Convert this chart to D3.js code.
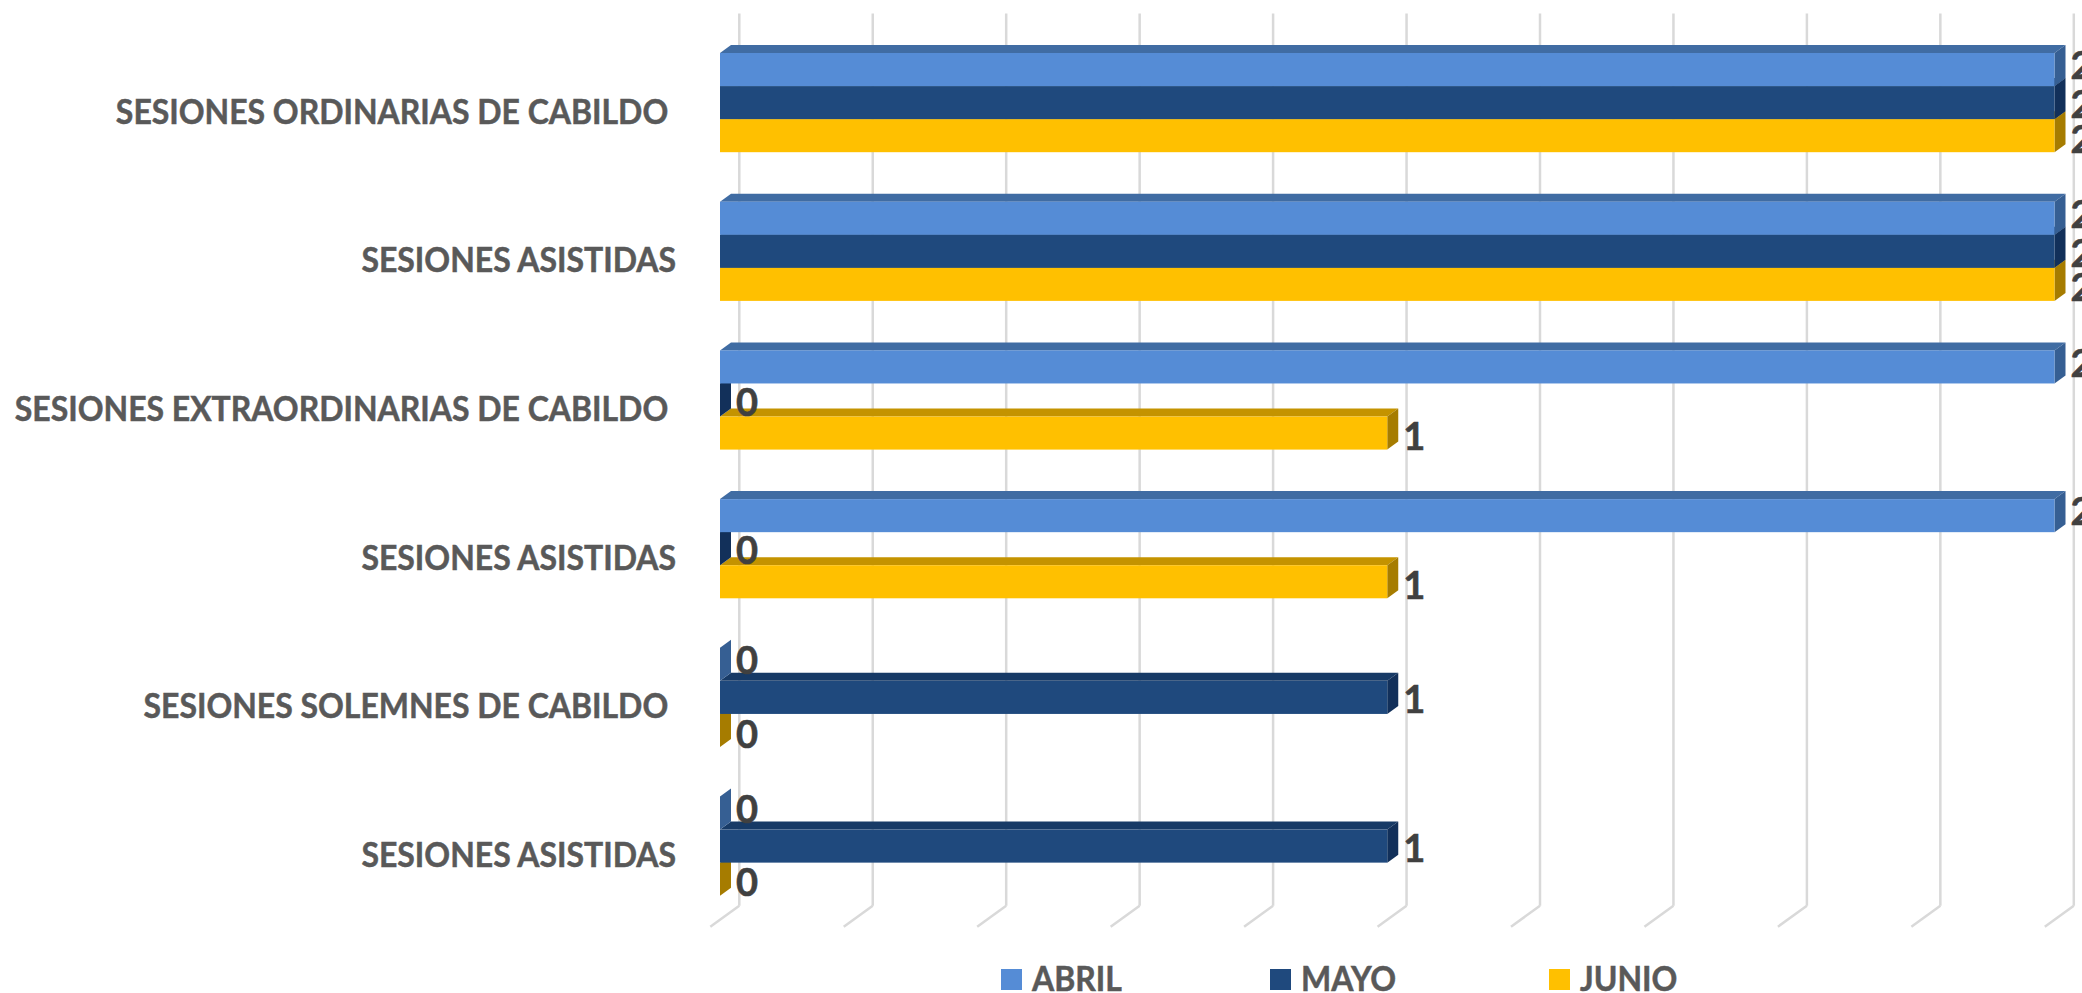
<!DOCTYPE html>
<html>
<head>
<meta charset="utf-8">
<script src="https://cdn.jsdelivr.net/npm/d3@7"></script>
<style>
  html, body { margin: 0; padding: 0; background: #fff; }
  svg { display: block; }
  text { font-family: Lato, "Open Sans", sans-serif; font-weight: 700; white-space: pre; }
</style>
</head>
<body>
<script>
// trailing space on the cabildo rows is in the original labels
var categories = ["SESIONES ORDINARIAS DE CABILDO ", "SESIONES ASISTIDAS", "SESIONES EXTRAORDINARIAS DE CABILDO ", "SESIONES ASISTIDAS", "SESIONES SOLEMNES DE CABILDO ", "SESIONES ASISTIDAS"];
var seriesNames = ["ABRIL", "MAYO", "JUNIO"];
var abril = [2, 2, 2, 2, 0, 0];
var mayo = [2, 2, 0, 0, 1, 1];
var junio = [2, 2, 1, 1, 0, 0];
var seriesValues = [abril, mayo, junio];

var frontColors = ["#558cd6", "#1f497d", "#ffc000"];
var topColors = ["#406ca3", "#173a66", "#c49300"];
var sideColors = ["#365f93", "#12305a", "#a67c00"];
var labelNudge = [-6, 0, 1.5];
var legendX = [1001, 1270, 1549];

var depthX = 11, depthY = 8;       // bar depth
var wallX = 19.3, wallY = 14.75;   // back wall offset from the bars
var floorX = 29, floorY = 21;
var textSqueeze = "scale(0.94,1)"; // lato is wider than the original face

var svg = d3.select("body").append("svg")
            .attr("width", 2082)
            .attr("height", 993);

var x = d3.scaleLinear().domain([0, 2]).range([720, 2054.5]);

var y = d3.scaleBand()
          .domain(d3.range(categories.length))
          .range([28.25, 920.45])
          .paddingInner(0.333)
          .paddingOuter(0.1665);

var yInner = d3.scaleBand()
               .domain(d3.range(seriesNames.length))
               .range([0, y.bandwidth()]);

// gridlines, back wall + floor
var gridTop = y.range()[0] - wallY;
var gridBottom = y.range()[1] - wallY;

svg.selectAll("line.wall")
    .data(x.ticks(10))
    .enter().append("line")
              .attr("class", "wall")
              .attr("x1", function(d){return x(d) + wallX;})
              .attr("x2", function(d){return x(d) + wallX;})
              .attr("y1", gridTop)
              .attr("y2", gridBottom)
              .attr("stroke", "#d9d9d9")
              .attr("stroke-width", 2.5);

svg.selectAll("line.floor")
    .data(x.ticks(10))
    .enter().append("line")
              .attr("class", "floor")
              .attr("x1", function(d){return x(d) + wallX;})
              .attr("x2", function(d){return x(d) + wallX - floorX;})
              .attr("y1", gridBottom)
              .attr("y2", gridBottom + floorY)
              .attr("stroke", "#d9d9d9")
              .attr("stroke-width", 2.5);

// flatten to one row per bar, junio first so the upper bars paint over the lower ones
var bars = [];
d3.range(seriesNames.length).reverse().forEach(function(s){
  categories.forEach(function(c, i){
    bars.push({cat: i, series: s, value: seriesValues[s][i]});
  });
});
bars.sort(function(a, b){return d3.descending(a.cat, b.cat) || d3.descending(a.series, b.series);});

function barTop(d){return y(d.cat) + yInner(d.series);}

var barGroups = svg.selectAll("g.bar")
    .data(bars)
    .enter().append("g")
              .attr("class", "bar");

barGroups.filter(function(d){return d.value > 0;}).append("polygon")
    .attr("fill", function(d){return topColors[d.series];})
    .attr("points", function(d){
      var t = barTop(d), x0 = x(0), x1 = x(d.value);
      return [[x0, t], [x0 + depthX, t - depthY], [x1 + depthX, t - depthY], [x1, t]].join(" ");
    });

barGroups.append("polygon")
    .attr("fill", function(d){return sideColors[d.series];})
    .attr("points", function(d){
      var t = barTop(d), b = t + yInner.bandwidth(), x1 = x(d.value);
      return [[x1, t], [x1 + depthX, t - depthY], [x1 + depthX, b - depthY], [x1, b]].join(" ");
    });

barGroups.filter(function(d){return d.value > 0;}).append("rect")
    .attr("x", x(0))
    .attr("y", barTop)
    .attr("width", function(d){return x(d.value) - x(0);})
    .attr("height", yInner.bandwidth())
    .attr("fill", function(d){return frontColors[d.series];});

// value labels
svg.selectAll("text.value")
    .data(bars)
    .enter().append("text")
              .attr("class", "value")
              .attr("x", function(d){return x(d.value) + 16;})
              .attr("y", function(d){return barTop(d) + yInner.bandwidth() / 2 + labelNudge[d.series];})
              .attr("dy", "0.41em")
              .attr("font-size", 38)
              .attr("fill", "#404040")
              .attr("stroke", "#404040")
              .attr("stroke-width", 0.6)
              .text(function(d){return d.value;});

// category axis
var yAxis = d3.axisLeft(y)
              .tickSize(0)
              .tickPadding(0)
              .tickFormat(function(i){return categories[i];});

var axisG = svg.append("g")
    .attr("transform", "translate(676,8.7)")
    .call(yAxis);

axisG.select(".domain").remove();
axisG.selectAll("text")
    .attr("font-size", 34)
    .attr("font-family", null)
    .attr("fill", "#595959")
    .attr("stroke", "#595959")
    .attr("stroke-width", 0.5)
    .attr("dy", "0.36em")
    .attr("transform", textSqueeze);

// legend
var legend = svg.selectAll("g.legend")
    .data(seriesNames)
    .enter().append("g")
              .attr("class", "legend")
              .attr("transform", function(d, i){return "translate(" + legendX[i] + ",969)";});

legend.append("rect")
    .attr("width", 21)
    .attr("height", 21)
    .attr("fill", function(d, i){return frontColors[i];});

legend.append("text")
    .attr("transform", "translate(31,22) " + textSqueeze)
    .attr("font-size", 34)
    .attr("fill", "#595959")
    .attr("stroke", "#595959")
    .attr("stroke-width", 0.5)
    .text(function(d){return d;});
</script>
</body>
</html>
